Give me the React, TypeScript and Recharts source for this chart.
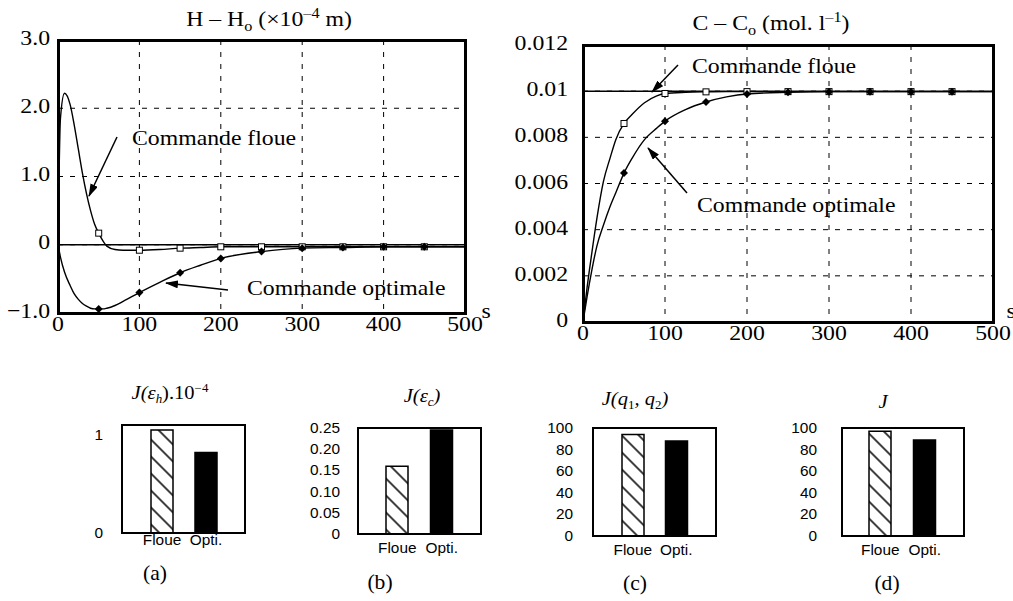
import React from "react";
import {
  LineChart,
  Line,
  BarChart,
  Bar,
  Cell,
  XAxis,
  YAxis,
  CartesianGrid,
  ReferenceLine,
} from "recharts";

// --- data ---
const hTime = [0, 3, 8, 15, 20, 25, 30, 35, 40, 45, 50, 55, 60, 70, 80, 100, 125, 150, 175, 200, 250, 300, 350, 400, 450, 500];
const hFloue = [0, 1.85, 2.22, 2.05, 1.75, 1.4, 1.05, 0.75, 0.5, 0.3, 0.17, 0.06, -0.02, -0.07, -0.08, -0.08, -0.07, -0.05, -0.04, -0.03, -0.03, -0.03, -0.03, -0.03, -0.03, -0.03];
const hOpti = [0, -0.18, -0.4, -0.6, -0.72, -0.8, -0.86, -0.9, -0.93, -0.94, -0.94, -0.94, -0.93, -0.89, -0.83, -0.7, -0.55, -0.41, -0.3, -0.2, -0.1, -0.05, -0.04, -0.03, -0.03, -0.03];

const cTime = [0, 5, 10, 17, 25, 33, 40, 50, 60, 75, 90, 100, 125, 150, 175, 200, 250, 300, 350, 400, 450, 500];
const cFloue = [0, 0.0015, 0.0028, 0.0045, 0.0061, 0.0071, 0.0079, 0.0086, 0.009, 0.0095, 0.0098, 0.0099, 0.00995, 0.00997, 0.00998, 0.00998, 0.00998, 0.00998, 0.00998, 0.00998, 0.00998, 0.00998];
const cOpti = [0, 0.0011, 0.0021, 0.0033, 0.0042, 0.005, 0.0056, 0.00645, 0.0071, 0.0079, 0.0084, 0.0087, 0.0092, 0.00953, 0.00975, 0.00988, 0.00995, 0.00998, 0.00998, 0.00998, 0.00998, 0.00998];

const timeTicks = [0, 100, 200, 300, 400, 500];
const hTicks = [-1, 0, 1, 2, 3];
const cTicks = [0, 0.002, 0.004, 0.006, 0.008, 0.01, 0.012];

const barCats = ["Floue", "Opti."];
const jEh = [1.05, 0.82];
const jEc = [0.16, 0.245];
const jQ = [94, 88];
const jTot = [97, 89];

const SERIF = "'Liberation Serif', 'Times New Roman', serif";
const SANS = "'Liberation Sans', Arial, sans-serif";

const fmtH = (v: number) => (v === 0 ? "0" : v < 0 ? "\u2212" + Math.abs(v).toFixed(1) : v.toFixed(1));
const fmtC = (v: number) => (v === 0 ? "0" : String(+v.toFixed(3)));
const fmt2 = (v: number) => (v === 0 ? "0" : v.toFixed(2));

const makeTick =
  (family: string, size: number, sx: number, dy: number, anchor: string, fmt: (v: any) => string) =>
  (props: any) => {
    const { x, y, payload } = props;
    return (
      <g transform={`translate(${x},${y + dy}) scale(${sx},1)`}>
        <text x={0} y={0} textAnchor={anchor} fontFamily={family} fontSize={size} fill="#000">
          {fmt(payload.value)}
        </text>
      </g>
    );
  };

const markAt = (t: number) => t > 0 && t < 500 && t % 50 === 0;

const squareDot = (p: any) => {
  if (!markAt(p.payload.t)) return <g key={p.key} />;
  return <rect key={p.key} x={p.cx - 3} y={p.cy - 3} width={6} height={6} fill="#fff" stroke="#000" strokeWidth={1} />;
};

const diamondDot = (p: any) => {
  if (!markAt(p.payload.t)) return <g key={p.key} />;
  const { cx, cy } = p;
  return <path key={p.key} d={`M${cx},${cy - 4}L${cx + 4},${cy}L${cx},${cy + 4}L${cx - 4},${cy}Z`} fill="#000" />;
};

// frame drawn around a plot area (left/top/width/height of the plot, border width)
function Frame({ x, y, w, h, b }: any) {
  return (
    <div
      style={{
        position: "absolute",
        left: x - b / 2,
        top: y - b / 2,
        width: w + b,
        height: h + b,
        border: `${b}px solid #000`,
        boxSizing: "border-box",
        pointerEvents: "none",
      }}
    />
  );
}

function CostBar(props: any) {
  const { id, values, left, top, yWidth, boxW, boxH, domain, ticks, fmt, gap, labelDy, padL, padR } = props;
  const rows = barCats.map((name, i) => ({ name, v: values[i] }));
  const mTop = 12;
  return (
    <div style={{ position: "absolute", left, top: top - mTop }}>
      <BarChart width={yWidth + boxW + 5} height={boxH + 30 + mTop} data={rows} margin={{ top: mTop, right: 5, bottom: 0, left: 0 }}>
        <defs>
          <pattern id={id} width={12} height={12} patternUnits="userSpaceOnUse" patternTransform="rotate(-45)">
            <rect width={12} height={12} fill="#fff" />
            <line x1={6} y1={0} x2={6} y2={12} stroke="#000" strokeWidth={1.5} />
          </pattern>
        </defs>
        <XAxis
          dataKey="name"
          height={30}
          padding={{ left: padL, right: padR }}
          tickSize={0}
          tickMargin={0}
          tickLine={false}
          axisLine={false}
          interval={0}
          tick={makeTick(SANS, 14, 1.1, labelDy, "middle", String)}
        />
        <YAxis
          type="number"
          domain={domain}
          ticks={ticks}
          width={yWidth}
          tickSize={0}
          tickMargin={gap}
          tickLine={false}
          axisLine={false}
          interval={0}
          allowDataOverflow
          tick={makeTick(SANS, 14, 1.1, 5, "end", fmt)}
        />
        <Bar dataKey="v" barSize={22} stroke="#000" strokeWidth={1.5} isAnimationActive={false}>
          {rows.map((_, i) => (
            <Cell key={i} fill={i === 0 ? `url(#${id})` : "#000"} />
          ))}
        </Bar>
      </BarChart>
      <Frame x={yWidth} y={mTop} w={boxW} h={boxH} b={2} />
    </div>
  );
}

function Stretch({ x, y, anchor = "start", size = 22, family = SERIF, italic = false, children }: any) {
  return (
    <g transform={`translate(${x},${y}) scale(1.08,1)`}>
      <text x={0} y={0} textAnchor={anchor} fontFamily={family} fontSize={size} fontStyle={italic ? "italic" : "normal"} fill="#000">
        {children}
      </text>
    </g>
  );
}

export default function App() {
  const hRows = hTime.map((t, i) => ({ t, floue: hFloue[i], opti: hOpti[i] }));
  const cRows = cTime.map((t, i) => ({ t, floue: cFloue[i], opti: cOpti[i] }));

  return (
    <div style={{ position: "absolute", left: 0, top: 0, width: 1013, height: 601, background: "#fff", overflow: "hidden" }}>
      {/* H - Ho */}
      <div style={{ position: "absolute", left: 0, top: 0 }}>
        <LineChart width={500} height={345} data={hRows} margin={{ top: 40, right: 35, bottom: 0, left: 0 }}>
          <CartesianGrid stroke="#000" strokeDasharray="5 7" />
          <XAxis
            dataKey="t"
            type="number"
            domain={[0, 500]}
            ticks={timeTicks}
            height={32}
            tickSize={0}
            tickMargin={0}
            tickLine={false}
            axisLine={false}
            interval={0}
            tick={makeTick(SERIF, 22, 1.08, 18, "middle", String)}
          />
          <YAxis
            type="number"
            domain={[-1, 3]}
            ticks={hTicks}
            width={58}
            tickSize={0}
            tickMargin={8}
            tickLine={false}
            axisLine={false}
            interval={0}
            tick={makeTick(SERIF, 22, 1.08, 4.5, "end", fmtH)}
          />
          <ReferenceLine y={0} stroke="#000" strokeWidth={1.5} />
          <Line type="monotone" dataKey="floue" stroke="#000" strokeWidth={1.4} dot={squareDot} activeDot={false} isAnimationActive={false} />
          <Line type="monotone" dataKey="opti" stroke="#000" strokeWidth={1.4} dot={diamondDot} activeDot={false} isAnimationActive={false} />
        </LineChart>
        <Frame x={58} y={40} w={407} h={273} b={3} />
      </div>

      {/* C - Co */}
      <div style={{ position: "absolute", left: 500, top: 0 }}>
        <LineChart width={513} height={345} data={cRows} margin={{ top: 45, right: 20, bottom: 0, left: 0 }}>
          <CartesianGrid stroke="#000" strokeDasharray="5 7" />
          <XAxis
            dataKey="t"
            type="number"
            domain={[0, 500]}
            ticks={timeTicks}
            height={23}
            tickSize={0}
            tickMargin={0}
            tickLine={false}
            axisLine={false}
            interval={0}
            tick={makeTick(SERIF, 22, 1.08, 18, "middle", String)}
          />
          <YAxis
            type="number"
            domain={[0, 0.012]}
            ticks={cTicks}
            width={83}
            tickSize={0}
            tickMargin={15}
            tickLine={false}
            axisLine={false}
            interval={0}
            tick={makeTick(SERIF, 22, 1.08, 5, "end", fmtC)}
          />
          <ReferenceLine y={0.01} stroke="#000" strokeWidth={1.5} />
          <Line type="monotone" dataKey="floue" stroke="#000" strokeWidth={1.4} dot={squareDot} activeDot={false} isAnimationActive={false} />
          <Line type="monotone" dataKey="opti" stroke="#000" strokeWidth={1.4} dot={diamondDot} activeDot={false} isAnimationActive={false} />
        </LineChart>
        <Frame x={83} y={45} w={410} h={277} b={3} />
      </div>

      <CostBar id="hatchA" values={jEh} left={82} top={425} yWidth={40} boxW={123} boxH={108} domain={[0, 1.1]} ticks={[0, 1]} fmt={String} gap={19} labelDy={12} padL={18} padR={17} />
      <CostBar id="hatchB" values={jEc} left={298} top={428} yWidth={60} boxW={123} boxH={106} domain={[0, 0.25]} ticks={[0, 0.05, 0.1, 0.15, 0.2, 0.25]} fmt={fmt2} gap={18} labelDy={19} padL={17} padR={17} />
      <CostBar id="hatchC" values={jQ} left={543} top={428} yWidth={50} boxW={123} boxH={108} domain={[0, 100]} ticks={[0, 20, 40, 60, 80, 100]} fmt={String} gap={20} labelDy={19} padL={18} padR={18} />
      <CostBar id="hatchD" values={jTot} left={792} top={428} yWidth={50} boxW={122} boxH={108} domain={[0, 100]} ticks={[0, 20, 40, 60, 80, 100]} fmt={String} gap={25} labelDy={19} padL={16} padR={17} />

      {/* titles, annotations, arrows */}
      <svg width={1013} height={601} style={{ position: "absolute", left: 0, top: 0, pointerEvents: "none" }}>
        <defs>
          <marker id="arrow" markerUnits="userSpaceOnUse" markerWidth={13} markerHeight={8} refX={12} refY={4} orient="auto">
            <path d="M0,0 L13,4 L0,8 Z" fill="#000" />
          </marker>
        </defs>

        <Stretch x={269} y={26} anchor="middle">
          H – H<tspan dy={5} fontSize={15}>o</tspan>
          <tspan dy={-5}> (×10</tspan>
          <tspan dy={-8} fontSize={15}>–4</tspan>
          <tspan dy={8}> m)</tspan>
        </Stretch>
        <Stretch x={771} y={30} anchor="middle">
          C – C<tspan dy={5} fontSize={15}>o</tspan>
          <tspan dy={-5}> (mol. l</tspan>
          <tspan dy={-8} fontSize={15}>–1</tspan>
          <tspan dy={8}>)</tspan>
        </Stretch>

        <Stretch x={132} y={145}>Commande floue</Stretch>
        <Stretch x={247} y={295}>Commande optimale</Stretch>
        <Stretch x={692} y={73}>Commande floue</Stretch>
        <Stretch x={697} y={212}>Commande optimale</Stretch>
        <Stretch x={486} y={318} anchor="middle">s</Stretch>
        <Stretch x={1011} y={318} anchor="middle">s</Stretch>

        <line x1={117} y1={137} x2={89} y2={196} stroke="#000" strokeWidth={1.5} markerEnd="url(#arrow)" />
        <line x1={228} y1={290} x2={166} y2={283} stroke="#000" strokeWidth={1.5} markerEnd="url(#arrow)" />
        <line x1={678} y1={65} x2={652} y2={92} stroke="#000" strokeWidth={1.5} markerEnd="url(#arrow)" />
        <line x1={687} y1={193} x2={648} y2={148} stroke="#000" strokeWidth={1.5} markerEnd="url(#arrow)" />

        <Stretch x={170} y={399} anchor="middle" size={19} italic>
          J(ε<tspan dy={4} fontSize={12}>h</tspan>
          <tspan dy={-4} fontStyle="normal">).10</tspan>
          <tspan dy={-7} fontSize={12} fontStyle="normal">−4</tspan>
        </Stretch>
        <Stretch x={422} y={402} anchor="middle" size={19} italic>
          J(ε<tspan dy={4} fontSize={12}>c</tspan>
          <tspan dy={-4}>)</tspan>
        </Stretch>
        <Stretch x={635} y={405} anchor="middle" size={19} italic>
          J(q<tspan dy={4} fontSize={12} fontStyle="normal">1</tspan>
          <tspan dy={-4}>, q</tspan>
          <tspan dy={4} fontSize={12} fontStyle="normal">2</tspan>
          <tspan dy={-4}>)</tspan>
        </Stretch>
        <Stretch x={883} y={408} anchor="middle" size={19} italic>
          J
        </Stretch>

        <Stretch x={155} y={580} anchor="middle" size={20}>(a)</Stretch>
        <Stretch x={380} y={589} anchor="middle" size={20}>(b)</Stretch>
        <Stretch x={635} y={590} anchor="middle" size={20}>(c)</Stretch>
        <Stretch x={887} y={590} anchor="middle" size={20}>(d)</Stretch>
      </svg>
    </div>
  );
}
